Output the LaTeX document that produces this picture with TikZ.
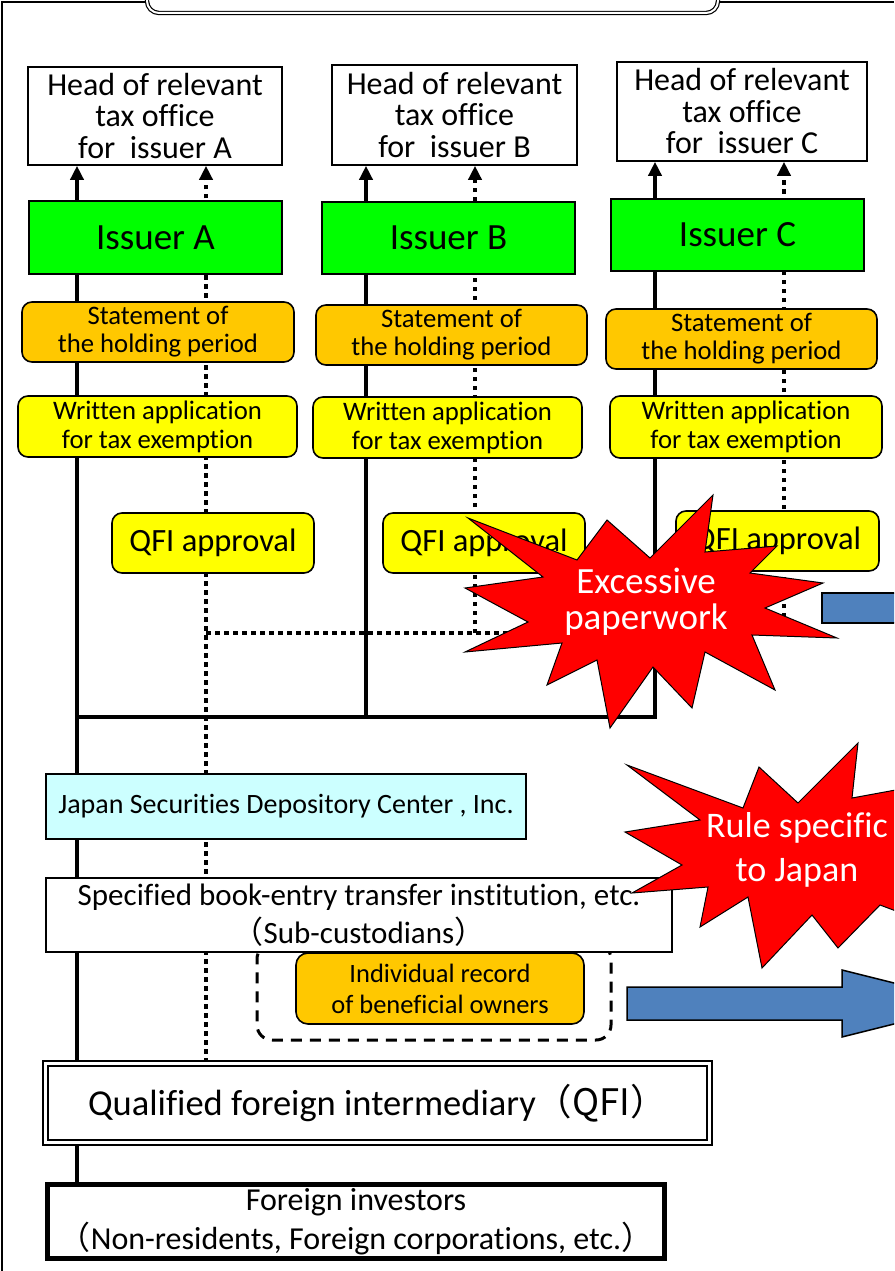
\documentclass[tikz,border=0pt]{standalone}
\usepackage{fontspec}
\setmainfont{Carlito}[Ligatures=NoCommon]
\newfontfamily\cjkfont{Noto Sans CJK JP}
\usetikzlibrary{arrows.meta}
\pgfdeclarelayer{bg}
\pgfsetlayers{bg,main}
\newcommand\myfs[2]{\fontsize{#1}{#2}\selectfont}
\newcommand\fwl{{\cjkfont （}}
\newcommand\fwr{{\cjkfont ）}}
\definecolor{issgreen}{RGB}{0,255,0}
\definecolor{stor}{RGB}{255,200,0}
\definecolor{yel}{RGB}{255,255,0}
\definecolor{jcyan}{RGB}{204,255,255}
\definecolor{blu}{RGB}{79,129,189}
\definecolor{burst}{RGB}{255,0,0}
\tikzset{
  base/.style={draw, line width=1.6pt, inner sep=0pt, align=center, text=black},
  taxbox/.style={base, fill=white, font=\myfs{32}{31.5}},
  issbox/.style={base, fill=issgreen, line width=1.2pt, font=\myfs{37}{36}},
  stbox/.style={base, fill=stor, rounded corners=10pt, font=\myfs{26.7}{28}},
  wabox/.style={base, fill=yel, rounded corners=10pt, font=\myfs{26.7}{29}},
  qabox/.style={base, fill=yel, rounded corners=10pt, font=\myfs{32.5}{32}},
  jsbox/.style={base, fill=jcyan, font=\myfs{28}{28}},
  spbox/.style={base, fill=white, font=\myfs{31}{38}},
  dashbox/.style={draw, line width=3pt, dash pattern=on 11pt off 8pt, rounded corners=15pt, inner sep=0pt},
  irbox/.style={base, fill=stor, rounded corners=12pt, font=\myfs{26.5}{31}},
  qfibox/.style={draw, double=white, double distance=3pt, line width=2pt, fill=white, inner sep=0pt, align=center, font=\myfs{36.5}{36}},
  fibox/.style={draw, line width=5pt, fill=white, inner sep=0pt, align=center, font=\myfs{32}{39}},
  solidline/.style={line width=4.5pt},
  dotline/.style={line width=4.5pt, dash pattern=on 4.5pt off 4.5pt},
  arr/.style={-{Triangle[width=13pt,length=14pt]}},
  burstshape/.style={fill=burst, draw=black, line width=1pt},
  bursttext/.style={text=white, align=center, inner sep=0pt},
  bluearrow/.style={fill=blu, draw=black, line width=1.5pt},
  frame/.style={line width=1.2pt}
}
\begin{document}
\begin{tikzpicture}[x=1pt,y=-1pt]
\useasboundingbox (0,0) rectangle (894,1271);
\clip (0,0) rectangle (894,1271);

% frame and title box
\node[draw, double=white, double distance=2pt, line width=1.2pt, rounded corners=12pt, minimum width=571pt, minimum height=60pt, inner sep=0pt] (title) at (432.5,-17) {};
\draw[frame] (2,1271) -- (2,2) -- (title.west |- 0,2);
\draw[frame] (title.east |- 0,2) -- (894,2);

% column coordinates
\coordinate (colA) at (77,0);
\coordinate (dotA) at (206,0);
\coordinate (colB) at (366,0);
\coordinate (dotB) at (475,0);
\coordinate (colC) at (655,0);
\coordinate (dotC) at (784,0);
\coordinate (bus) at (0,717);
\coordinate (dbus) at (0,633);

% tax offices
\node[taxbox, minimum width=254pt, minimum height=98pt] (taxA) at (155,116) {Head of relevant\\tax office\\for\ \ issuer A};
\node[taxbox, minimum width=245pt, minimum height=100pt] (taxB) at (454.5,115) {Head of relevant\\tax office\\for\ \ issuer B};
\node[taxbox, minimum width=250pt, minimum height=99pt] (taxC) at (742,111.5) {Head of relevant\\tax office\\for\ \ issuer C};

% issuers
\node[issbox, minimum width=253pt, minimum height=73pt] (issA) at (155.5,237.5) {Issuer A};
\node[issbox, minimum width=253pt, minimum height=72pt] (issB) at (448.5,238) {Issuer B};
\node[issbox, minimum width=253pt, minimum height=72pt] (issC) at (737.5,235) {Issuer C};

% statements
\node[stbox, minimum width=272pt, minimum height=60pt] (stA) at (158,332) {Statement of\\the holding period};
\node[stbox, minimum width=271pt, minimum height=60pt] (stB) at (451.5,335) {Statement of\\the holding period};
\node[stbox, minimum width=271pt, minimum height=60pt] (stC) at (741.5,339) {Statement of\\the holding period};

% written applications
\node[wabox, minimum width=279pt, minimum height=61pt] (waA) at (157.5,426.5) {Written application\\for tax exemption};
\node[wabox, minimum width=269pt, minimum height=61pt] (waB) at (447.5,427.5) {Written application\\for tax exemption};
\node[wabox, minimum width=272pt, minimum height=62pt] (waC) at (746,427) {Written application\\for tax exemption};

% QFI approvals
\node[qabox, minimum width=202pt, minimum height=60pt] (qaA) at (213,543) {QFI approval};
\node[qabox, minimum width=202pt, minimum height=60pt] (qaB) at (484,543) {QFI approval};
\node[qabox, minimum width=203pt, minimum height=60pt] (qaC) at (777.5,541) {QFI approval};

% lower chain
\node[jsbox, minimum width=480pt, minimum height=65pt] (jsdc) at (286,806.5) {Japan Securities Depository Center , Inc.};
\node[dashbox, minimum width=354pt, minimum height=96pt] (dash) at (434,992) {};
\node[spbox, minimum width=626pt, minimum height=74pt] (spec) at (359,915) {Specified book-entry transfer institution, etc.\\\fwl Sub-custodians\fwr};
\node[irbox, minimum width=288pt, minimum height=71pt] (irec) at (440,988.5) {Individual record\\of beneficial owners};
\node[qfibox, minimum width=664pt, minimum height=79pt] (qfi) at (377.5,1103) {Qualified foreign intermediary{\cjkfont （QFI）}};
\node[fibox, minimum width=617pt, minimum height=74pt] (fi) at (356,1221.5) {Foreign investors\\\fwl Non-residents, Foreign corporations, etc.\fwr};

% connectors
\begin{pgfonlayer}{bg}
\fill[white] (0,0) rectangle (894,1271);
\draw[solidline, arr] (fi.north -| colA) -- (taxA.south -| colA);
\draw[dotline, arr] (qfi.north -| dotA) -- (taxA.south -| dotA);
\draw[solidline, arr] (bus -| colB) -- (taxB.south -| colB);
\draw[dotline, arr] (dbus -| dotB) -- (taxB.south -| dotB);
\draw[solidline, arr] (bus -| colA) -- (bus -| colC) -- (taxC.south -| colC);
\draw[dotline, arr] (dbus -| dotA) -- (dbus -| dotC) -- (taxC.south -| dotC);
\end{pgfonlayer}

% blue arrows
\draw[bluearrow] (822,593) -- (920,593) -- (920,623) -- (822,623) -- cycle;
\draw[bluearrow] (627,987) -- (842,987) -- (842,970) -- (976,1003.5) -- (842,1037) -- (842,1020) -- (627,1020) -- cycle;

% starbursts
\draw[burstshape] (468,518) -- (577,560) -- (607,520) -- (650,558) -- (713,495) -- (705,552) -- (777,546) -- (750,573) -- (823,583) -- (765,608) -- (837,638) -- (752,635) -- (775,690) -- (705,652) -- (692,708) -- (653,667) -- (610,728) -- (597,660) -- (547,685) -- (562,643) -- (465,652) -- (528,622) -- (465,588) -- (543,577) -- cycle;
\node[bursttext, font=\myfs{37}{36}] (exc) at (646,602) {Excessive\\paperwork};

\draw[burstshape] (627,765) -- (743,808) -- (759,767) -- (798,803) -- (858,743) -- (852,798) -- (950,780) -- (915,850) -- (960,935) -- (880,905) -- (838,948) -- (812,915) -- (762,968) -- (748,897) -- (700,927) -- (708,887) -- (632,893) -- (682,865) -- (625,832) -- (700,820) -- cycle;
\node[bursttext, font=\myfs{36}{44}] (rule) at (797,850) {Rule specific\\to Japan};
\end{tikzpicture}
\end{document}
